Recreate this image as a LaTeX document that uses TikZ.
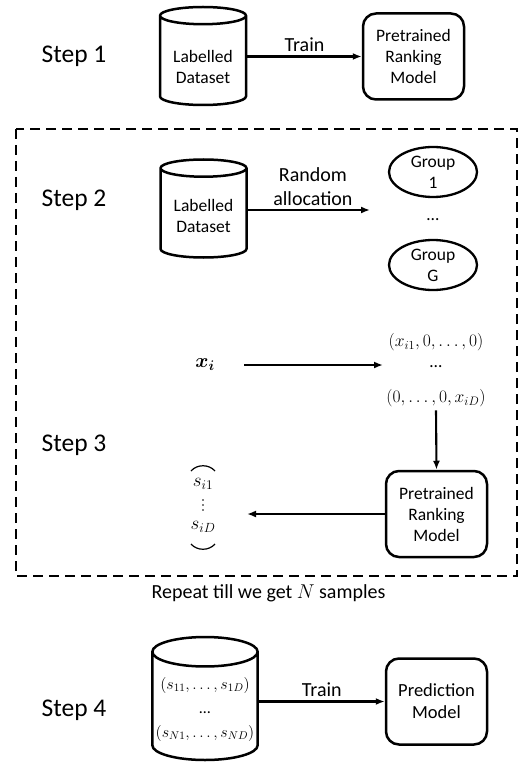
\documentclass[tikz,border=0pt]{standalone}
\usepackage{fix-cm}
\usepackage{amsmath,amssymb,bm}
\usepackage[no-math]{fontspec}
\setmainfont{Carlito}
\usepackage{tikz}
\usetikzlibrary{shapes,arrows,arrows.meta,positioning}

% text set lower inside a cylinder, keeping the box size
\newcommand{\lowered}[2]{\raisebox{-#1}[\height][\depth]{\begin{tabular}{@{}c@{}}#2\end{tabular}}}

\begin{document}
\begin{tikzpicture}[
    x=1pt, y=-1pt,
    font=\fontsize{17.5}{21}\selectfont,
    stepname/.style={font=\fontsize{25.5}{30}\selectfont},
    dataset/.style={cylinder, shape border rotate=90, draw, line width=2.5pt, aspect=0.26, minimum width=86pt, minimum height=98pt, align=center, anchor=shape center},
    model/.style={rectangle, draw, line width=2.5pt, rounded corners=13pt, minimum width=101pt, minimum height=86pt, align=center},
    group/.style={ellipse, draw, line width=2.3pt, minimum width=88pt, minimum height=50pt, inner sep=0pt, align=center},
    edgelabel/.style={font=\fontsize{20}{23.5}\selectfont, align=center},
    arrow/.style={->, >={Latex[length=9pt,width=7pt]}, line width=2.1pt}
]
    \useasboundingbox (0,0) rectangle (529,767);

    % Step 1
    \node [stepname] (step1) at (74,56) {Step 1};
    \node [dataset] (data1) at (203,56) {\lowered{6pt}{Labelled\\Dataset}};
    \node [model] (rank1) at (413.5,56.5) {Pretrained\\Ranking\\Model};
    \draw [arrow] (data1.east |- rank1.west) -- node [edgelabel, above] {Train} (rank1.west);

    % Repeated block (steps 2 and 3)
    \draw [line width=2.3pt, dash pattern=on 10pt off 6pt] (16,129) rectangle (517,576);

    % Step 2
    \node [stepname] (step2) at (74,200) {Step 2};
    \node [dataset] (data2) at (203.5,208.5) {\lowered{3pt}{Labelled\\Dataset}};
    \node [group] (group1) at (433,172) {Group\\1};
    \node (gdots) at (433,220) {…};
    \node [group] (groupG) at (433,265) {Group\\G};
    \coordinate (alloc) at (370,210);
    \draw [arrow] (data2.east |- alloc) -- node [edgelabel, above, xshift=4pt] {Random\\allocation} (alloc);

    % Step 3
    \node [stepname] (step3) at (74,445) {Step 3};
    \node [font=\fontsize{20}{24}\selectfont] (xi) at (205,365) {$\bm{x_i}$};
    \node (xtop) at (436,342) {$(x_{i1},0,\ldots,0)$};
    \node (xdots) at (436,367) {…};
    \node (xbot) at (436,398) {$(0,\ldots,0,x_{iD})$};
    \coordinate (xto) at (383,365);
    \draw [arrow] ([xshift=26pt]xi.east) -- (xto);

    \node [model] (rank2) at (436.5,514) {Pretrained\\Ranking\\Model};
    \draw [arrow] (xbot.south) -- (rank2.north);

    \node [font=\fontsize{19}{22}\selectfont, inner sep=0pt] (s1) at (203,484) {$s_{i1}$};
    \node [font=\fontsize{19}{22}\selectfont, inner sep=0pt] (sD) at (203,527) {$s_{iD}$};
    \foreach \y in {500,505,510}
        \fill (203,\y) circle (0.9pt);
    \draw [line width=1.2pt] (191,471) .. controls (197,464) and (209,464) .. (215,471);
    \draw [line width=1.2pt] (191,544) .. controls (197,551) and (209,551) .. (215,544);
    \coordinate (sto) at (247,514);
    \draw [arrow] (rank2.west) -- (sto);

    \node [font=\fontsize{20}{24}\selectfont] (repeat) at (268.5,593) {Repeat till we get $N$ samples};

    % Step 4
    \node [stepname] (step4) at (74,710) {Step 4};
    \node [dataset, minimum width=100pt, minimum height=123pt, aspect=0.28, font=\fontsize{16}{24}\selectfont] (data4) at (205,698.5) {$(s_{11},\ldots,s_{1D})$\\…\\$(s_{N1},\ldots,s_{ND})$};
    \node [model, font=\fontsize{18.5}{22}\selectfont] (pred) at (436.5,701.5) {Prediction\\Model};
    \draw [arrow] (data4.east |- pred.west) -- node [edgelabel, above] {Train} (pred.west);
\end{tikzpicture}
\end{document}
